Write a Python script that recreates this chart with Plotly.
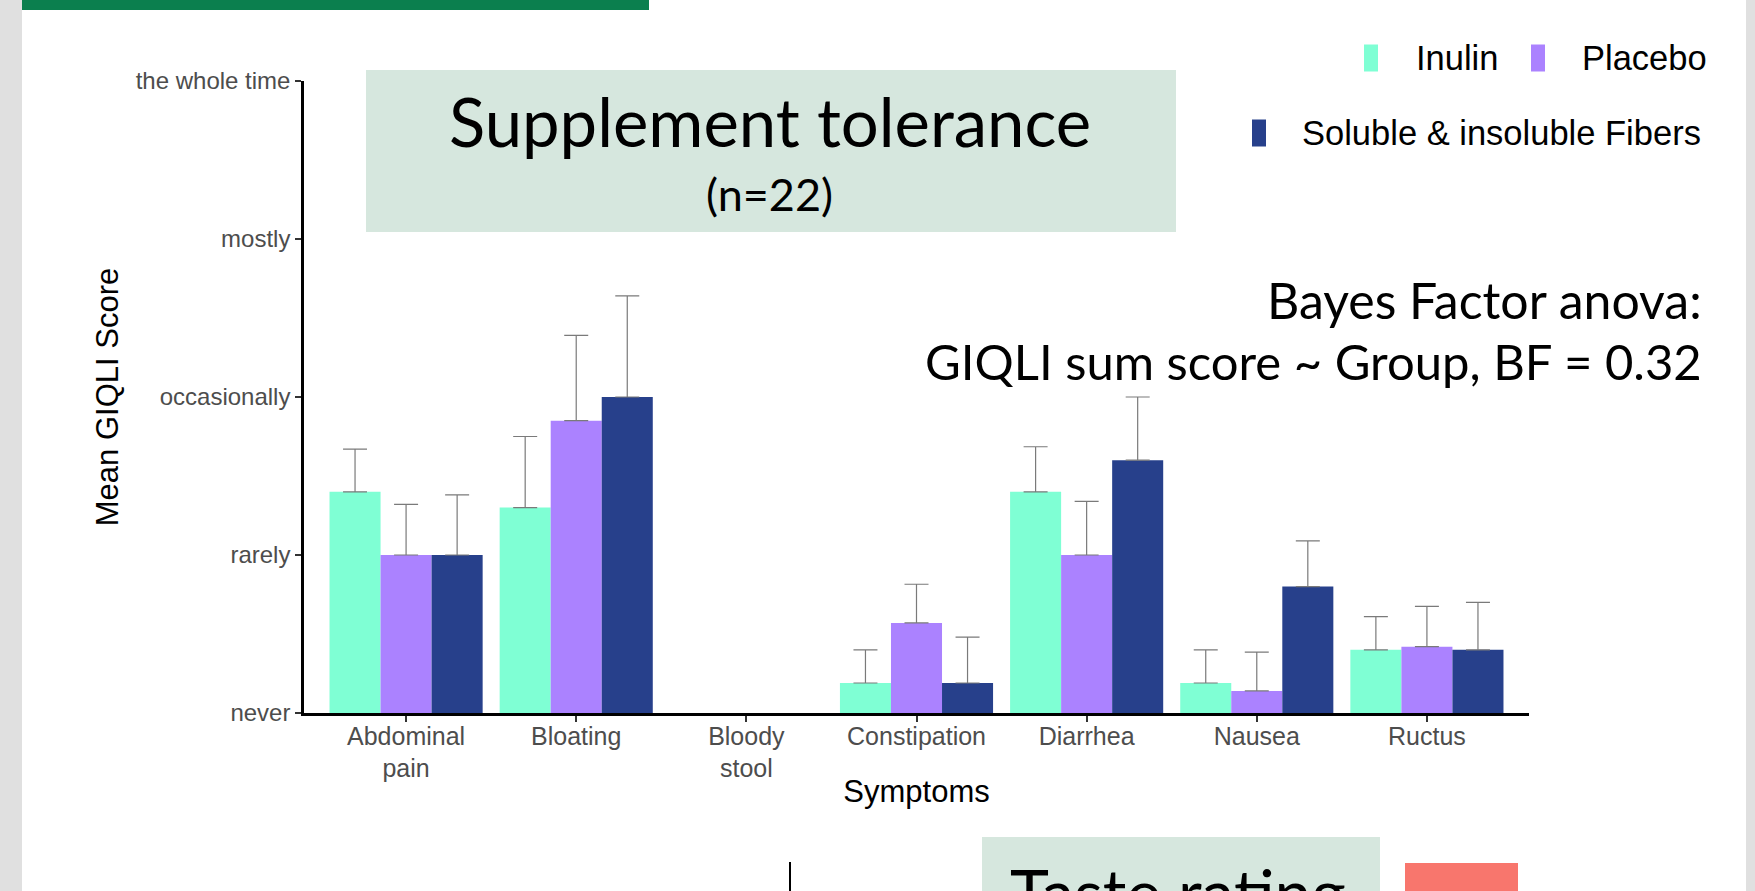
import plotly.graph_objects as go

# ---------------- data ----------------
categories = ["Abdominal<br>pain", "Bloating", "Bloody<br>stool", "Constipation",
              "Diarrhea", "Nausea", "Ructus"]
level_values = [0, 1, 2, 3, 4]
level_labels = ["never", "rarely", "occasionally", "mostly", "the whole time"]

series_names = ["Inulin", "Placebo", "Soluble & insoluble Fibers"]
series_colors = ["#7FFFD4", "#AB82FF", "#27408B"]

inulin_mean = [1.40, 1.30, 0.0, 0.19, 1.40, 0.19, 0.40]
inulin_se = [0.27, 0.45, 0.0, 0.21, 0.285, 0.21, 0.21]
placebo_mean = [1.00, 1.85, 0.0, 0.57, 1.00, 0.14, 0.42]
placebo_se = [0.32, 0.54, 0.0, 0.245, 0.34, 0.245, 0.255]
fibers_mean = [1.00, 2.00, 0.0, 0.19, 1.60, 0.80, 0.40]
fibers_se = [0.38, 0.64, 0.0, 0.29, 0.40, 0.29, 0.30]

means = [inulin_mean, placebo_mean, fibers_mean]
ses = [inulin_se, placebo_se, fibers_se]

# ---------------- geometry helpers ----------------
W, H = 1755, 891
L, R, T, B = 304, 226, 81, 178
PW, PH = W - L - R, H - T - B


def X(px):
    return (px - L) / PW


def Y(py):
    return (H - B - py) / PH


fig = go.Figure()
for name, color, m, s in zip(series_names, series_colors, means, ses):
    # a zero mean (Bloody stool) shows no bar and no error bar
    yv = [v if v > 0 else None for v in m]
    ev = [e if v > 0 else None for v, e in zip(m, s)]
    fig.add_trace(go.Bar(
        name=name, x=categories, y=yv, marker=dict(color=color, line=dict(width=0)),
        error_y=dict(type="data", symmetric=False, array=ev,
                     arrayminus=[0 if e is not None else None for e in ev],
                     color="#7a7a7a", thickness=1.2, width=12),
        showlegend=False,
    ))

AX_FONT = "Liberation Sans, Arial, Helvetica, sans-serif"
SLIDE_FONT = "Lato, Open Sans, sans-serif"

fig.update_layout(
    width=W, height=H,
    margin=dict(l=L, r=R, t=T, b=B, pad=0),
    paper_bgcolor="white", plot_bgcolor="rgba(0,0,0,0)",
    barmode="group", bargap=0.1, bargroupgap=0,
    xaxis=dict(
        type="category", categoryorder="array", categoryarray=categories,
        range=[-0.6, len(categories) - 0.4],
        showline=True, linecolor="black", linewidth=2.5,
        ticks="outside", ticklen=6, tickwidth=1.5, tickcolor="#333333",
        ticklabelstandoff=-7,
        showgrid=False, zeroline=False,
        tickfont=dict(family=AX_FONT, size=25, color="#4D4D4D"),
        title=dict(text="Symptoms", font=dict(family=AX_FONT, size=31, color="black"),
                   standoff=0),
        automargin=False,
    ),
    yaxis=dict(
        range=[0, 4], tickvals=level_values, ticktext=level_labels,
        showline=True, linecolor="black", linewidth=2.5,
        ticks="outside", ticklen=6, tickwidth=1.5, tickcolor="#333333",
        showgrid=False, zeroline=False,
        tickfont=dict(family=AX_FONT, size=24, color="#4D4D4D"),
        title=dict(text="Mean GIQLI Score", font=dict(family=AX_FONT, size=31, color="black"),
                   standoff=8),
        automargin=False,
    ),
)

shapes = []
# page decorations
shapes.append(dict(type="rect", xref="paper", yref="paper", x0=X(0), x1=X(22), y0=Y(891), y1=Y(0),
                   fillcolor="#E0E0E0", line=dict(width=0), layer="below"))
shapes.append(dict(type="rect", xref="paper", yref="paper", x0=X(1746), x1=X(1755), y0=Y(891), y1=Y(0),
                   fillcolor="#E0E0E0", line=dict(width=0), layer="below"))
shapes.append(dict(type="rect", xref="paper", yref="paper", x0=X(22), x1=X(649), y0=Y(10), y1=Y(0),
                   fillcolor="#0B7F4E", line=dict(width=0), layer="below"))
# title box
shapes.append(dict(type="rect", xref="paper", yref="paper", x0=X(366), x1=X(1176), y0=Y(232), y1=Y(70),
                   fillcolor="#D6E7DE", line=dict(width=0), layer="below"))
# bottom: next panel parts
shapes.append(dict(type="rect", xref="paper", yref="paper", x0=X(982), x1=X(1380), y0=Y(891), y1=Y(837),
                   fillcolor="#D6E7DE", line=dict(width=0), layer="below"))
shapes.append(dict(type="rect", xref="paper", yref="paper", x0=X(1405), x1=X(1518), y0=Y(891), y1=Y(863),
                   fillcolor="#F8766D", line=dict(width=0), layer="below"))
shapes.append(dict(type="line", xref="paper", yref="paper", x0=X(790), x1=X(790), y0=Y(891), y1=Y(862),
                   line=dict(color="black", width=2)))

annotations = []
annotations.append(dict(text="Supplement tolerance", xref="paper", yref="paper", x=X(770), y=Y(121),
                        xanchor="center", yanchor="middle", showarrow=False,
                        font=dict(family=SLIDE_FONT, size=67, color="black")))
annotations.append(dict(text="(n=22)", xref="paper", yref="paper", x=X(769), y=Y(194),
                        xanchor="center", yanchor="middle", showarrow=False,
                        font=dict(family=SLIDE_FONT, size=45, color="black")))
annotations.append(dict(text="Bayes Factor anova:", xref="paper", yref="paper", x=X(1704), y=Y(300),
                        xanchor="right", yanchor="middle", showarrow=False,
                        font=dict(family=SLIDE_FONT, size=50, color="black")))
annotations.append(dict(text="GIQLI sum score ~ Group, BF = 0.32", xref="paper", yref="paper",
                        x=X(1704), y=Y(361), xanchor="right", yanchor="middle", showarrow=False,
                        font=dict(family=SLIDE_FONT, size=49, color="black")))
annotations.append(dict(text="Taste rating", xref="paper", yref="paper", x=X(1008), y=Y(850),
                        xanchor="left", yanchor="top", showarrow=False,
                        font=dict(family=SLIDE_FONT, size=66, color="black")))

# manual legend (ggplot style narrow keys)
legend_pos = [  # key x0, key y-centre, label x0
    (1364, 58, 1414),
    (1531, 58, 1580),
    (1252, 133, 1300),
]
for (kx, ky, tx), name, color in zip(legend_pos, series_names, series_colors):
    shapes.append(dict(type="rect", xref="paper", yref="paper", x0=X(kx), x1=X(kx + 14),
                       y0=Y(ky + 13.5), y1=Y(ky - 13.5), fillcolor=color, line=dict(width=0)))
    annotations.append(dict(text=name, xref="paper", yref="paper", x=X(tx), y=Y(ky),
                            xanchor="left", yanchor="middle", showarrow=False,
                            font=dict(family=AX_FONT, size=34.5, color="black")))

fig.update_layout(shapes=shapes, annotations=annotations)
fig.write_html("out.html", config={"displayModeBar": False},
               post_script="document.body.style.margin='0';document.body.style.overflow='hidden';")
